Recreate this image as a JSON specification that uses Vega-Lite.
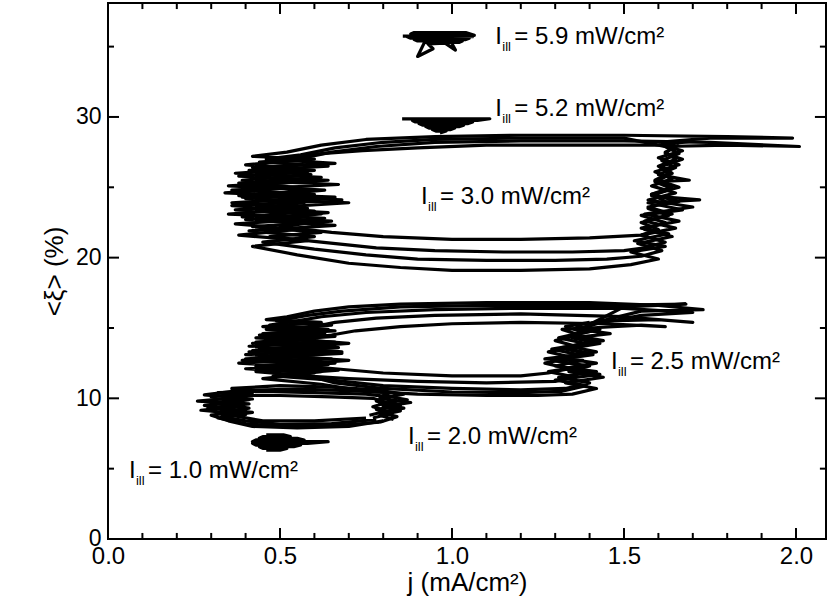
{
 "$schema": "https://vega.github.io/schema/vega-lite/v6.json",
 "width": 718, "height": 536,
 "autosize": {"type": "none"},
 "padding": {"left": 108, "top": 3, "right": 2, "bottom": 62},
 "background": "white",
 "config": {
  "font": "Liberation Sans",
  "view": {"stroke": "black", "strokeWidth": 2},
  "axis": {"domain": false, "ticks": false, "labelColor": "black", "titleColor": "black", "labelFont": "Liberation Sans", "titleFont": "Liberation Sans", "titleFontWeight": "normal", "grid": false, "labelOverlap": false, "labelBound": false, "labelFlush": false}
 },
 "datasets": {
  "xt": [{"v":0,"m":1},{"v":0.1,"m":0},{"v":0.2,"m":0},{"v":0.3,"m":0},{"v":0.4,"m":0},{"v":0.5,"m":1},{"v":0.6,"m":0},{"v":0.7,"m":0},{"v":0.8,"m":0},{"v":0.9,"m":0},{"v":1.0,"m":1},{"v":1.1,"m":0},{"v":1.2,"m":0},{"v":1.3,"m":0},{"v":1.4,"m":0},{"v":1.5,"m":1},{"v":1.6,"m":0},{"v":1.7,"m":0},{"v":1.8,"m":0},{"v":1.9,"m":0},{"v":2.0,"m":1}],
  "yt": [{"v":0,"m":1},{"v":5,"m":0},{"v":10,"m":1},{"v":15,"m":0},{"v":20,"m":1},{"v":25,"m":0},{"v":30,"m":1},{"v":35,"m":0}],
  "loops": [
   {"s":"c3a","x":1.60,"y":28.2},{"s":"c3a","x":1.75,"y":28.5},{"s":"c3a","x":1.99,"y":28.5},{"s":"c3a","x":1.80,"y":28.6},{"s":"c3a","x":1.5,"y":28.7},{"s":"c3a","x":1.2,"y":28.7},{"s":"c3a","x":0.95,"y":28.6},{"s":"c3a","x":0.75,"y":28.4},{"s":"c3a","x":0.62,"y":28.0},{"s":"c3a","x":0.52,"y":27.5},{"s":"c3a","x":0.42,"y":27.2},{"s":"c3a","x":0.60,"y":27.0},{"s":"c3a","x":0.40,"y":26.6},{"s":"c3a","x":0.56,"y":26.3},{"s":"c3a","x":0.37,"y":26.0},{"s":"c3a","x":0.62,"y":25.7},{"s":"c3a","x":0.38,"y":25.3},{"s":"c3a","x":0.55,"y":25.0},{"s":"c3a","x":0.34,"y":24.6},{"s":"c3a","x":0.66,"y":24.3},{"s":"c3a","x":0.36,"y":23.9},{"s":"c3a","x":0.58,"y":23.5},{"s":"c3a","x":0.35,"y":23.1},{"s":"c3a","x":0.63,"y":22.8},{"s":"c3a","x":0.37,"y":22.4},{"s":"c3a","x":0.55,"y":22.0},{"s":"c3a","x":0.38,"y":21.6},{"s":"c3a","x":0.58,"y":21.2},{"s":"c3a","x":0.42,"y":20.8},{"s":"c3a","x":0.55,"y":20.2},{"s":"c3a","x":0.7,"y":19.6},{"s":"c3a","x":0.85,"y":19.3},{"s":"c3a","x":1.0,"y":19.1},{"s":"c3a","x":1.2,"y":19.1},{"s":"c3a","x":1.4,"y":19.2},{"s":"c3a","x":1.52,"y":19.5},{"s":"c3a","x":1.60,"y":19.9},{"s":"c3a","x":1.52,"y":20.4},{"s":"c3a","x":1.62,"y":20.8},{"s":"c3a","x":1.53,"y":21.2},{"s":"c3a","x":1.63,"y":21.7},{"s":"c3a","x":1.55,"y":22.1},{"s":"c3a","x":1.66,"y":22.6},{"s":"c3a","x":1.56,"y":23.1},{"s":"c3a","x":1.70,"y":23.6},{"s":"c3a","x":1.57,"y":24.1},{"s":"c3a","x":1.65,"y":24.6},{"s":"c3a","x":1.58,"y":25.1},{"s":"c3a","x":1.64,"y":25.6},{"s":"c3a","x":1.59,"y":26.1},{"s":"c3a","x":1.66,"y":26.6},{"s":"c3a","x":1.60,"y":27.1},{"s":"c3a","x":1.67,"y":27.6},{"s":"c3a","x":1.61,"y":28.0},{"s":"c3a","x":1.70,"y":28.3},
   {"s":"c3b","x":1.62,"y":27.9},{"s":"c3b","x":1.80,"y":28.0},{"s":"c3b","x":2.01,"y":27.9},{"s":"c3b","x":1.75,"y":28.2},{"s":"c3b","x":1.5,"y":28.3},{"s":"c3b","x":1.2,"y":28.3},{"s":"c3b","x":0.95,"y":28.2},{"s":"c3b","x":0.78,"y":27.9},{"s":"c3b","x":0.65,"y":27.5},{"s":"c3b","x":0.55,"y":27.0},{"s":"c3b","x":0.44,"y":26.8},{"s":"c3b","x":0.64,"y":26.5},{"s":"c3b","x":0.41,"y":26.2},{"s":"c3b","x":0.59,"y":25.9},{"s":"c3b","x":0.39,"y":25.5},{"s":"c3b","x":0.67,"y":25.2},{"s":"c3b","x":0.36,"y":24.8},{"s":"c3b","x":0.60,"y":24.5},{"s":"c3b","x":0.40,"y":24.2},{"s":"c3b","x":0.70,"y":23.9},{"s":"c3b","x":0.37,"y":23.4},{"s":"c3b","x":0.62,"y":23.1},{"s":"c3b","x":0.40,"y":22.7},{"s":"c3b","x":0.66,"y":22.3},{"s":"c3b","x":0.41,"y":21.9},{"s":"c3b","x":0.60,"y":21.5},{"s":"c3b","x":0.45,"y":21.1},{"s":"c3b","x":0.60,"y":20.6},{"s":"c3b","x":0.75,"y":20.2},{"s":"c3b","x":0.9,"y":19.9},{"s":"c3b","x":1.1,"y":19.8},{"s":"c3b","x":1.3,"y":19.8},{"s":"c3b","x":1.45,"y":19.9},{"s":"c3b","x":1.55,"y":20.1},{"s":"c3b","x":1.61,"y":20.5},{"s":"c3b","x":1.54,"y":21.0},{"s":"c3b","x":1.64,"y":21.5},{"s":"c3b","x":1.56,"y":22.0},{"s":"c3b","x":1.62,"y":22.5},{"s":"c3b","x":1.55,"y":23.0},{"s":"c3b","x":1.67,"y":23.4},{"s":"c3b","x":1.57,"y":23.9},{"s":"c3b","x":1.72,"y":24.1},{"s":"c3b","x":1.58,"y":24.4},{"s":"c3b","x":1.64,"y":24.9},{"s":"c3b","x":1.59,"y":25.4},{"s":"c3b","x":1.69,"y":25.5},{"s":"c3b","x":1.60,"y":25.9},{"s":"c3b","x":1.65,"y":26.4},{"s":"c3b","x":1.61,"y":26.9},{"s":"c3b","x":1.66,"y":27.4},{"s":"c3b","x":1.62,"y":27.9},
   {"s":"c3c","x":1.63,"y":28.0},{"s":"c3c","x":1.4,"y":28.0},{"s":"c3c","x":1.1,"y":28.0},{"s":"c3c","x":0.9,"y":27.8},{"s":"c3c","x":0.74,"y":27.6},{"s":"c3c","x":0.62,"y":27.4},{"s":"c3c","x":0.5,"y":27.0},{"s":"c3c","x":0.43,"y":26.5},{"s":"c3c","x":0.60,"y":26.2},{"s":"c3c","x":0.40,"y":25.8},{"s":"c3c","x":0.57,"y":25.4},{"s":"c3c","x":0.38,"y":25.1},{"s":"c3c","x":0.63,"y":24.8},{"s":"c3c","x":0.39,"y":24.3},{"s":"c3c","x":0.57,"y":23.9},{"s":"c3c","x":0.42,"y":23.5},{"s":"c3c","x":0.64,"y":23.2},{"s":"c3c","x":0.44,"y":22.8},{"s":"c3c","x":0.60,"y":22.5},{"s":"c3c","x":0.50,"y":22.2},{"s":"c3c","x":0.65,"y":21.8},{"s":"c3c","x":0.8,"y":21.5},{"s":"c3c","x":1.0,"y":21.3},{"s":"c3c","x":1.2,"y":21.3},{"s":"c3c","x":1.4,"y":21.4},{"s":"c3c","x":1.55,"y":21.6},{"s":"c3c","x":1.60,"y":22.0},{"s":"c3c","x":1.55,"y":22.5},{"s":"c3c","x":1.63,"y":23.0},{"s":"c3c","x":1.57,"y":23.5},{"s":"c3c","x":1.62,"y":24.0},{"s":"c3c","x":1.58,"y":24.5},{"s":"c3c","x":1.64,"y":25.0},{"s":"c3c","x":1.59,"y":25.5},{"s":"c3c","x":1.63,"y":26.0},{"s":"c3c","x":1.60,"y":26.5},{"s":"c3c","x":1.65,"y":27.0},{"s":"c3c","x":1.62,"y":27.5},{"s":"c3c","x":1.66,"y":28.0},
   {"s":"c3d","x":1.64,"y":27.8},{"s":"c3d","x":1.5,"y":28.5},{"s":"c3d","x":1.2,"y":28.5},{"s":"c3d","x":0.95,"y":28.4},{"s":"c3d","x":0.8,"y":28.2},{"s":"c3d","x":0.66,"y":27.8},{"s":"c3d","x":0.56,"y":27.3},{"s":"c3d","x":0.46,"y":27.0},{"s":"c3d","x":0.66,"y":26.7},{"s":"c3d","x":0.42,"y":26.4},{"s":"c3d","x":0.58,"y":26.1},{"s":"c3d","x":0.38,"y":25.8},{"s":"c3d","x":0.64,"y":25.5},{"s":"c3d","x":0.35,"y":25.1},{"s":"c3d","x":0.60,"y":24.8},{"s":"c3d","x":0.38,"y":24.4},{"s":"c3d","x":0.68,"y":24.1},{"s":"c3d","x":0.36,"y":23.7},{"s":"c3d","x":0.60,"y":23.3},{"s":"c3d","x":0.39,"y":22.9},{"s":"c3d","x":0.65,"y":22.6},{"s":"c3d","x":0.42,"y":22.2},{"s":"c3d","x":0.62,"y":21.8},{"s":"c3d","x":0.47,"y":21.5},{"s":"c3d","x":0.62,"y":21.1},{"s":"c3d","x":0.78,"y":20.7},{"s":"c3d","x":0.95,"y":20.5},{"s":"c3d","x":1.15,"y":20.4},{"s":"c3d","x":1.35,"y":20.4},{"s":"c3d","x":1.5,"y":20.5},{"s":"c3d","x":1.56,"y":20.7},{"s":"c3d","x":1.62,"y":21.1},{"s":"c3d","x":1.55,"y":21.6},{"s":"c3d","x":1.65,"y":22.1},{"s":"c3d","x":1.56,"y":22.6},{"s":"c3d","x":1.64,"y":23.1},{"s":"c3d","x":1.57,"y":23.6},{"s":"c3d","x":1.66,"y":24.0},{"s":"c3d","x":1.58,"y":24.5},{"s":"c3d","x":1.66,"y":25.0},{"s":"c3d","x":1.60,"y":25.5},{"s":"c3d","x":1.64,"y":26.0},{"s":"c3d","x":1.61,"y":26.5},{"s":"c3d","x":1.67,"y":27.0},{"s":"c3d","x":1.62,"y":27.4},{"s":"c3d","x":1.64,"y":27.8},
   {"s":"d1","x":1.40,"y":15.3},{"s":"d1","x":1.55,"y":16.2},{"s":"d1","x":1.73,"y":16.3},{"s":"d1","x":1.6,"y":16.6},{"s":"d1","x":1.4,"y":16.8},{"s":"d1","x":1.1,"y":16.8},{"s":"d1","x":0.85,"y":16.7},{"s":"d1","x":0.70,"y":16.5},{"s":"d1","x":0.6,"y":16.2},{"s":"d1","x":0.52,"y":15.8},{"s":"d1","x":0.46,"y":15.6},{"s":"d1","x":0.62,"y":15.4},{"s":"d1","x":0.45,"y":15.1},{"s":"d1","x":0.66,"y":14.8},{"s":"d1","x":0.44,"y":14.5},{"s":"d1","x":0.60,"y":14.2},{"s":"d1","x":0.42,"y":13.9},{"s":"d1","x":0.67,"y":13.6},{"s":"d1","x":0.41,"y":13.3},{"s":"d1","x":0.58,"y":13.0},{"s":"d1","x":0.39,"y":12.7},{"s":"d1","x":0.64,"y":12.4},{"s":"d1","x":0.40,"y":12.1},{"s":"d1","x":0.60,"y":11.8},{"s":"d1","x":0.45,"y":11.4},{"s":"d1","x":0.62,"y":11.0},{"s":"d1","x":0.75,"y":10.5},{"s":"d1","x":0.9,"y":10.3},{"s":"d1","x":1.1,"y":10.2},{"s":"d1","x":1.25,"y":10.2},{"s":"d1","x":1.35,"y":10.3},{"s":"d1","x":1.42,"y":10.7},{"s":"d1","x":1.33,"y":11.1},{"s":"d1","x":1.44,"y":11.5},{"s":"d1","x":1.34,"y":11.9},{"s":"d1","x":1.40,"y":12.3},{"s":"d1","x":1.29,"y":12.7},{"s":"d1","x":1.41,"y":13.1},{"s":"d1","x":1.33,"y":13.5},{"s":"d1","x":1.43,"y":13.9},{"s":"d1","x":1.35,"y":14.3},{"s":"d1","x":1.46,"y":14.6},{"s":"d1","x":1.37,"y":14.9},{"s":"d1","x":1.42,"y":15.3},
   {"s":"d2","x":1.42,"y":15.3},{"s":"d2","x":1.55,"y":15.9},{"s":"d2","x":1.70,"y":16.1},{"s":"d2","x":1.5,"y":16.4},{"s":"d2","x":1.2,"y":16.4},{"s":"d2","x":0.95,"y":16.3},{"s":"d2","x":0.75,"y":16.1},{"s":"d2","x":0.62,"y":15.8},{"s":"d2","x":0.55,"y":15.5},{"s":"d2","x":0.47,"y":15.2},{"s":"d2","x":0.64,"y":14.9},{"s":"d2","x":0.45,"y":14.6},{"s":"d2","x":0.61,"y":14.3},{"s":"d2","x":0.43,"y":14.0},{"s":"d2","x":0.66,"y":13.7},{"s":"d2","x":0.42,"y":13.4},{"s":"d2","x":0.60,"y":13.1},{"s":"d2","x":0.40,"y":12.8},{"s":"d2","x":0.66,"y":12.5},{"s":"d2","x":0.43,"y":12.2},{"s":"d2","x":0.62,"y":11.9},{"s":"d2","x":0.48,"y":11.6},{"s":"d2","x":0.65,"y":11.3},{"s":"d2","x":0.8,"y":10.9},{"s":"d2","x":1.0,"y":10.7},{"s":"d2","x":1.2,"y":10.6},{"s":"d2","x":1.33,"y":10.7},{"s":"d2","x":1.40,"y":11.1},{"s":"d2","x":1.31,"y":11.5},{"s":"d2","x":1.42,"y":11.9},{"s":"d2","x":1.30,"y":12.3},{"s":"d2","x":1.38,"y":12.7},{"s":"d2","x":1.27,"y":12.8},{"s":"d2","x":1.40,"y":13.2},{"s":"d2","x":1.32,"y":13.6},{"s":"d2","x":1.42,"y":14.0},{"s":"d2","x":1.34,"y":14.4},{"s":"d2","x":1.41,"y":14.8},{"s":"d2","x":1.36,"y":15.2},{"s":"d2","x":1.45,"y":15.5},
   {"s":"d3","x":1.45,"y":15.5},{"s":"d3","x":1.60,"y":15.6},{"s":"d3","x":1.70,"y":15.4},{"s":"d3","x":1.5,"y":15.8},{"s":"d3","x":1.2,"y":16.0},{"s":"d3","x":0.95,"y":15.9},{"s":"d3","x":0.78,"y":15.7},{"s":"d3","x":0.66,"y":15.4},{"s":"d3","x":0.58,"y":15.0},{"s":"d3","x":0.50,"y":14.7},{"s":"d3","x":0.66,"y":14.4},{"s":"d3","x":0.47,"y":14.1},{"s":"d3","x":0.63,"y":13.8},{"s":"d3","x":0.44,"y":13.5},{"s":"d3","x":0.68,"y":13.2},{"s":"d3","x":0.45,"y":12.9},{"s":"d3","x":0.62,"y":12.6},{"s":"d3","x":0.43,"y":12.3},{"s":"d3","x":0.67,"y":12.0},{"s":"d3","x":0.50,"y":11.7},{"s":"d3","x":0.7,"y":11.4},{"s":"d3","x":0.9,"y":11.2},{"s":"d3","x":1.1,"y":11.1},{"s":"d3","x":1.3,"y":11.2},{"s":"d3","x":1.36,"y":11.5},{"s":"d3","x":1.28,"y":11.9},{"s":"d3","x":1.38,"y":12.3},{"s":"d3","x":1.30,"y":12.7},{"s":"d3","x":1.37,"y":13.1},{"s":"d3","x":1.29,"y":13.5},{"s":"d3","x":1.39,"y":13.9},{"s":"d3","x":1.31,"y":14.3},{"s":"d3","x":1.38,"y":14.7},{"s":"d3","x":1.33,"y":15.1},{"s":"d3","x":1.40,"y":15.4},
   {"s":"d4","x":1.40,"y":15.0},{"s":"d4","x":1.55,"y":15.2},{"s":"d4","x":1.62,"y":15.1},{"s":"d4","x":1.45,"y":15.3},{"s":"d4","x":1.2,"y":15.4},{"s":"d4","x":1.0,"y":15.3},{"s":"d4","x":0.85,"y":15.1},{"s":"d4","x":0.72,"y":14.8},{"s":"d4","x":0.65,"y":14.5},{"s":"d4","x":0.55,"y":14.2},{"s":"d4","x":0.70,"y":13.9},{"s":"d4","x":0.52,"y":13.6},{"s":"d4","x":0.68,"y":13.3},{"s":"d4","x":0.50,"y":13.0},{"s":"d4","x":0.70,"y":12.7},{"s":"d4","x":0.53,"y":12.4},{"s":"d4","x":0.66,"y":12.1},{"s":"d4","x":0.8,"y":11.8},{"s":"d4","x":1.0,"y":11.6},{"s":"d4","x":1.2,"y":11.6},{"s":"d4","x":1.28,"y":11.8},{"s":"d4","x":1.34,"y":12.1},{"s":"d4","x":1.27,"y":12.5},{"s":"d4","x":1.35,"y":12.9},{"s":"d4","x":1.28,"y":13.3},{"s":"d4","x":1.36,"y":13.7},{"s":"d4","x":1.30,"y":14.1},{"s":"d4","x":1.37,"y":14.5},{"s":"d4","x":1.32,"y":14.9},{"s":"d4","x":1.38,"y":15.0},
   {"s":"d5","x":1.38,"y":15.0},{"s":"d5","x":1.5,"y":16.5},{"s":"d5","x":1.68,"y":16.7},{"s":"d5","x":1.45,"y":16.6},{"s":"d5","x":1.1,"y":16.6},{"s":"d5","x":0.85,"y":16.5},{"s":"d5","x":0.68,"y":16.2},{"s":"d5","x":0.58,"y":15.9},{"s":"d5","x":0.49,"y":15.5},{"s":"d5","x":0.65,"y":15.2},{"s":"d5","x":0.46,"y":14.9},{"s":"d5","x":0.63,"y":14.6},{"s":"d5","x":0.43,"y":14.3},{"s":"d5","x":0.66,"y":14.0},{"s":"d5","x":0.41,"y":13.7},{"s":"d5","x":0.62,"y":13.4},{"s":"d5","x":0.40,"y":13.1},{"s":"d5","x":0.65,"y":12.8},{"s":"d5","x":0.38,"y":12.5},{"s":"d5","x":0.61,"y":12.2},{"s":"d5","x":0.43,"y":11.9},{"s":"d5","x":0.58,"y":11.6},{"s":"d5","x":0.66,"y":11.1},{"s":"d5","x":0.8,"y":10.7},{"s":"d5","x":1.0,"y":10.45},{"s":"d5","x":1.2,"y":10.4},{"s":"d5","x":1.32,"y":10.5},{"s":"d5","x":1.39,"y":10.9},{"s":"d5","x":1.30,"y":11.3},{"s":"d5","x":1.43,"y":11.7},{"s":"d5","x":1.32,"y":12.1},{"s":"d5","x":1.42,"y":12.5},{"s":"d5","x":1.31,"y":12.9},{"s":"d5","x":1.42,"y":13.3},{"s":"d5","x":1.34,"y":13.7},{"s":"d5","x":1.44,"y":14.1},{"s":"d5","x":1.35,"y":14.5},{"s":"d5","x":1.43,"y":14.9},{"s":"d5","x":1.38,"y":15.0},
   {"s":"e1","x":0.80,"y":8.4},{"s":"e1","x":0.70,"y":8.0},{"s":"e1","x":0.55,"y":7.9},{"s":"e1","x":0.42,"y":8.0},{"s":"e1","x":0.35,"y":8.4},{"s":"e1","x":0.30,"y":8.8},{"s":"e1","x":0.40,"y":9.1},{"s":"e1","x":0.28,"y":9.5},{"s":"e1","x":0.38,"y":9.8},{"s":"e1","x":0.30,"y":10.1},{"s":"e1","x":0.42,"y":10.4},{"s":"e1","x":0.36,"y":10.7},{"s":"e1","x":0.5,"y":10.9},{"s":"e1","x":0.65,"y":10.8},{"s":"e1","x":0.78,"y":10.6},{"s":"e1","x":0.86,"y":10.3},{"s":"e1","x":0.79,"y":10.0},{"s":"e1","x":0.88,"y":9.7},{"s":"e1","x":0.80,"y":9.4},{"s":"e1","x":0.85,"y":9.1},{"s":"e1","x":0.79,"y":8.8},{"s":"e1","x":0.83,"y":8.5},
   {"s":"e2","x":0.78,"y":8.5},{"s":"e2","x":0.65,"y":8.2},{"s":"e2","x":0.50,"y":8.15},{"s":"e2","x":0.40,"y":8.4},{"s":"e2","x":0.33,"y":8.7},{"s":"e2","x":0.42,"y":9.0},{"s":"e2","x":0.29,"y":9.3},{"s":"e2","x":0.41,"y":9.6},{"s":"e2","x":0.26,"y":9.8},{"s":"e2","x":0.40,"y":10.1},{"s":"e2","x":0.32,"y":10.4},{"s":"e2","x":0.45,"y":10.5},{"s":"e2","x":0.6,"y":10.4},{"s":"e2","x":0.75,"y":10.3},{"s":"e2","x":0.82,"y":10.1},{"s":"e2","x":0.78,"y":9.8},{"s":"e2","x":0.85,"y":9.5},{"s":"e2","x":0.78,"y":9.2},{"s":"e2","x":0.82,"y":8.9},{"s":"e2","x":0.77,"y":8.6},
   {"s":"e3","x":0.75,"y":8.6},{"s":"e3","x":0.6,"y":8.4},{"s":"e3","x":0.45,"y":8.4},{"s":"e3","x":0.38,"y":8.7},{"s":"e3","x":0.33,"y":9.0},{"s":"e3","x":0.41,"y":9.3},{"s":"e3","x":0.32,"y":9.6},{"s":"e3","x":0.41,"y":9.9},{"s":"e3","x":0.35,"y":10.2},{"s":"e3","x":0.5,"y":10.2},{"s":"e3","x":0.65,"y":10.1},{"s":"e3","x":0.77,"y":10.0},{"s":"e3","x":0.81,"y":9.7},{"s":"e3","x":0.77,"y":9.4},{"s":"e3","x":0.81,"y":9.1},{"s":"e3","x":0.76,"y":8.8},
   {"s":"e4","x":0.79,"y":8.3},{"s":"e4","x":0.65,"y":8.05},{"s":"e4","x":0.5,"y":8.0},{"s":"e4","x":0.40,"y":8.2},{"s":"e4","x":0.32,"y":8.6},{"s":"e4","x":0.40,"y":8.85},{"s":"e4","x":0.27,"y":9.15},{"s":"e4","x":0.39,"y":9.45},{"s":"e4","x":0.30,"y":9.7},{"s":"e4","x":0.42,"y":9.95},{"s":"e4","x":0.28,"y":10.25},{"s":"e4","x":0.38,"y":10.55},{"s":"e4","x":0.55,"y":10.65},{"s":"e4","x":0.7,"y":10.55},{"s":"e4","x":0.82,"y":10.4},{"s":"e4","x":0.80,"y":10.2},{"s":"e4","x":0.87,"y":9.9},{"s":"e4","x":0.79,"y":9.6},{"s":"e4","x":0.86,"y":9.3},{"s":"e4","x":0.79,"y":9.0},{"s":"e4","x":0.84,"y":8.7},{"s":"e4","x":0.79,"y":8.3},
   {"s":"f","x":0.46,"y":7.4},{"s":"f","x":0.51,"y":7.4},{"s":"f","x":0.53,"y":7.28},{"s":"f","x":0.45,"y":7.28},{"s":"f","x":0.44,"y":7.16},{"s":"f","x":0.55,"y":7.16},{"s":"f","x":0.57,"y":7.04},{"s":"f","x":0.43,"y":7.04},{"s":"f","x":0.42,"y":6.92},{"s":"f","x":0.64,"y":6.92},{"s":"f","x":0.58,"y":6.8},{"s":"f","x":0.42,"y":6.8},{"s":"f","x":0.43,"y":6.68},{"s":"f","x":0.56,"y":6.68},{"s":"f","x":0.54,"y":6.56},{"s":"f","x":0.44,"y":6.56},{"s":"f","x":0.45,"y":6.44},{"s":"f","x":0.52,"y":6.44},{"s":"f","x":0.50,"y":6.32},{"s":"f","x":0.46,"y":6.32},
   {"s":"g","x":0.855,"y":29.87},{"s":"g","x":1.11,"y":29.87},{"s":"g","x":1.074,"y":29.75},{"s":"g","x":0.885,"y":29.75},{"s":"g","x":0.894,"y":29.64},{"s":"g","x":1.06,"y":29.64},{"s":"g","x":1.047,"y":29.53},{"s":"g","x":0.904,"y":29.53},{"s":"g","x":0.914,"y":29.42},{"s":"g","x":1.034,"y":29.42},{"s":"g","x":1.02,"y":29.31},{"s":"g","x":0.924,"y":29.31},{"s":"g","x":0.933,"y":29.21},{"s":"g","x":1.008,"y":29.21},{"s":"g","x":0.995,"y":29.1},{"s":"g","x":0.943,"y":29.1},{"s":"g","x":0.953,"y":29.0},{"s":"g","x":0.983,"y":29.0},{"s":"g","x":0.965,"y":28.86},
   {"s":"h","x":0.857,"y":35.75},{"s":"h","x":1.065,"y":35.8},{"s":"h","x":1.04,"y":36.0},{"s":"h","x":0.89,"y":36.0},{"s":"h","x":0.88,"y":35.9},{"s":"h","x":1.05,"y":35.9},{"s":"h","x":1.06,"y":35.7},{"s":"h","x":0.87,"y":35.7},{"s":"h","x":0.88,"y":35.6},{"s":"h","x":1.05,"y":35.6},{"s":"h","x":1.04,"y":35.5},{"s":"h","x":0.89,"y":35.5},{"s":"h","x":0.90,"y":35.4},{"s":"h","x":1.03,"y":35.4},{"s":"h","x":1.02,"y":35.3},{"s":"h","x":0.92,"y":35.3},{"s":"h","x":0.90,"y":34.3},{"s":"h","x":0.945,"y":34.85},{"s":"h","x":0.93,"y":35.2},{"s":"h","x":0.98,"y":35.25},{"s":"h","x":1.01,"y":34.75},{"s":"h","x":1.0,"y":35.2}
  ],
  "labels": [
   {"x":1.126,"y":35.7,"t":"= 5.9 mW/cm²"},
   {"x":1.126,"y":30.6,"t":"= 5.2 mW/cm²"},
   {"x":0.91,"y":24.3,"t":"= 3.0 mW/cm²"},
   {"x":1.462,"y":12.6,"t":"= 2.5 mW/cm²"},
   {"x":0.872,"y":7.25,"t":"= 2.0 mW/cm²"},
   {"x":0.061,"y":4.83,"t":"= 1.0 mW/cm²"}
  ]
 },
 "layer": [
  {
   "data": {"name": "loops"},
   "mark": {"type": "line", "color": "black", "strokeWidth": 3.2, "strokeJoin": "round", "clip": true},
   "encoding": {
    "x": {"field": "x", "type": "quantitative", "scale": {"domain": [0.01453, 2.0727], "nice": false, "zero": false},
     "axis": {"orient": "bottom", "values": [0, 0.5, 1, 1.5, 2], "format": ".1f",
      "labelFontSize": 24, "labelPadding": 5, "title": "j (mA/cm²)", "titleFontSize": 26, "titlePadding": 1}},
    "y": {"field": "y", "type": "quantitative", "scale": {"domain": [0.3554, 37.745], "nice": false, "zero": false},
     "axis": {"orient": "left", "values": [0, 10, 20, 30],
      "labelFontSize": 23, "labelPadding": 7, "title": "<ξ> (%)", "titleFontSize": 26, "titlePadding": 8}},
    "detail": {"field": "s"},
    "order": {"value": null}
   }
  },
  {
   "data": {"name": "xt"},
   "transform": [{"filter": "datum.m == 1"}],
   "mark": {"type": "bar", "color": "black", "width": 2},
   "encoding": {"x": {"field": "v", "type": "quantitative", "axis": null}, "y": {"datum": 0, "type": "quantitative", "axis": null}, "y2": {"datum": 0.78}}
  },
  {
   "data": {"name": "xt"},
   "transform": [{"filter": "datum.m == 0"}],
   "mark": {"type": "bar", "color": "black", "width": 2},
   "encoding": {"x": {"field": "v", "type": "quantitative", "axis": null}, "y": {"datum": 0, "type": "quantitative", "axis": null}, "y2": {"datum": 0.43}}
  },
  {
   "data": {"name": "xt"},
   "transform": [{"filter": "datum.m == 1"}],
   "mark": {"type": "bar", "color": "black", "width": 2},
   "encoding": {"x": {"field": "v", "type": "quantitative", "axis": null}, "y": {"datum": 37.32, "type": "quantitative", "axis": null}, "y2": {"datum": 38.1}}
  },
  {
   "data": {"name": "xt"},
   "transform": [{"filter": "datum.m == 0"}],
   "mark": {"type": "bar", "color": "black", "width": 2},
   "encoding": {"x": {"field": "v", "type": "quantitative", "axis": null}, "y": {"datum": 37.67, "type": "quantitative", "axis": null}, "y2": {"datum": 38.1}}
  },
  {
   "data": {"name": "yt"},
   "transform": [{"filter": "datum.m == 1"}],
   "mark": {"type": "bar", "color": "black", "height": 2},
   "encoding": {"y": {"field": "v", "type": "quantitative", "axis": null}, "x": {"datum": 0, "type": "quantitative", "axis": null}, "x2": {"datum": 0.032}}
  },
  {
   "data": {"name": "yt"},
   "transform": [{"filter": "datum.m == 0"}],
   "mark": {"type": "bar", "color": "black", "height": 2},
   "encoding": {"y": {"field": "v", "type": "quantitative", "axis": null}, "x": {"datum": 0, "type": "quantitative", "axis": null}, "x2": {"datum": 0.0175}}
  },
  {
   "data": {"name": "yt"},
   "transform": [{"filter": "datum.m == 1"}],
   "mark": {"type": "bar", "color": "black", "height": 2},
   "encoding": {"y": {"field": "v", "type": "quantitative", "axis": null}, "x": {"datum": 2.055, "type": "quantitative", "axis": null}, "x2": {"datum": 2.087}}
  },
  {
   "data": {"name": "yt"},
   "transform": [{"filter": "datum.m == 0"}],
   "mark": {"type": "bar", "color": "black", "height": 2},
   "encoding": {"y": {"field": "v", "type": "quantitative", "axis": null}, "x": {"datum": 2.0695, "type": "quantitative", "axis": null}, "x2": {"datum": 2.087}}
  },
  {
   "data": {"name": "labels"},
   "mark": {"type": "text", "text": "I", "align": "left", "baseline": "middle", "fontSize": 24, "color": "black", "font": "Liberation Sans"},
   "encoding": {"x": {"field": "x", "type": "quantitative", "axis": null}, "y": {"field": "y", "type": "quantitative", "axis": null}}
  },
  {
   "data": {"name": "labels"},
   "mark": {"type": "text", "text": "ill", "align": "left", "baseline": "middle", "fontSize": 13, "dx": 7, "dy": 10, "color": "black", "font": "Liberation Sans"},
   "encoding": {"x": {"field": "x", "type": "quantitative", "axis": null}, "y": {"field": "y", "type": "quantitative", "axis": null}}
  },
  {
   "data": {"name": "labels"},
   "mark": {"type": "text", "align": "left", "baseline": "middle", "fontSize": 24, "dx": 19, "color": "black", "font": "Liberation Sans"},
   "encoding": {"x": {"field": "x", "type": "quantitative", "axis": null}, "y": {"field": "y", "type": "quantitative", "axis": null}, "text": {"field": "t"}}
  }
 ],
 "resolve": {"axis": {"x": "independent", "y": "independent"}}
}
